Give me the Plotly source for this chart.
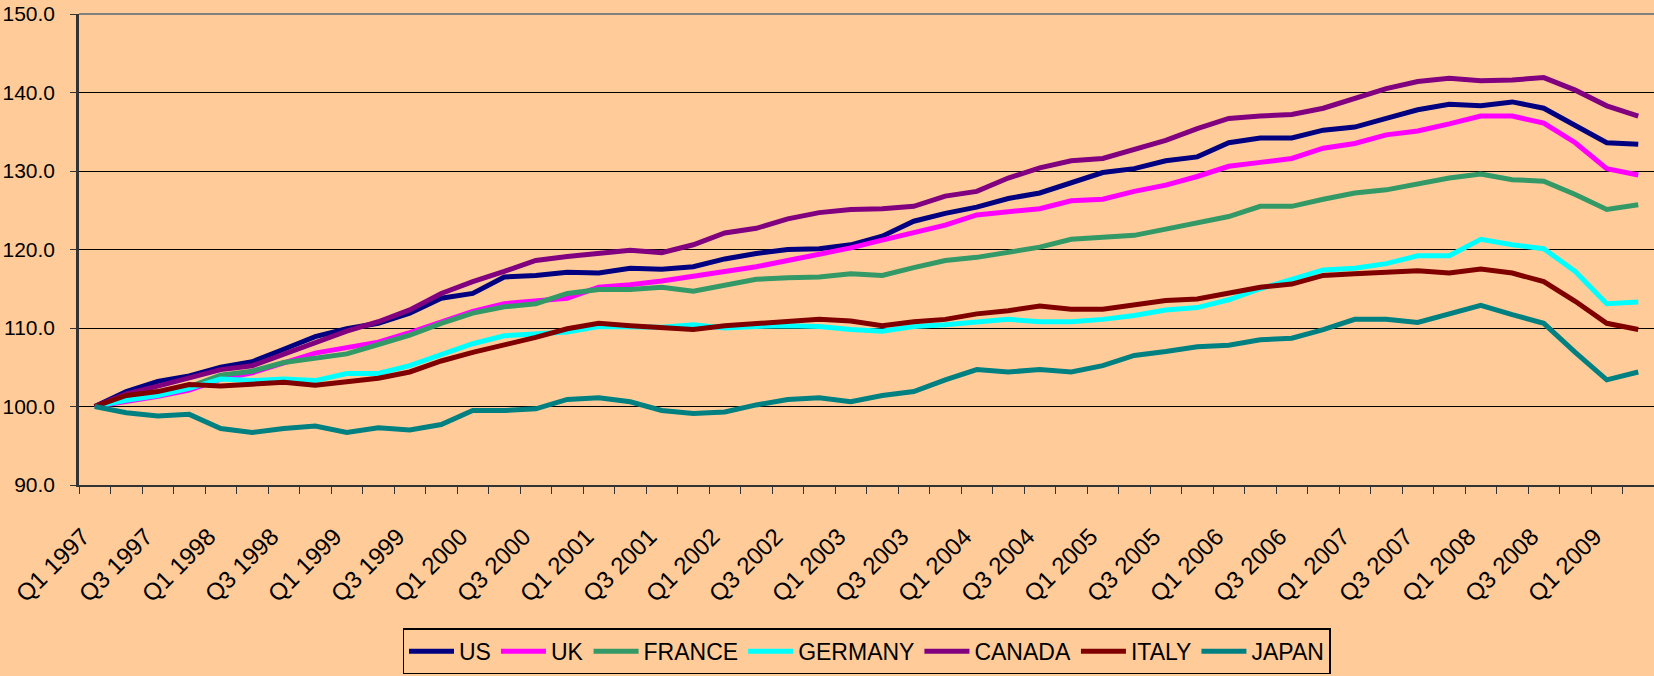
import plotly.graph_objects as go

years = list(range(1997, 2010))
quarters = [f"Q{q} {y}" for y in years for q in range(1, 5)][:50]

us = [100.0, 101.9, 103.2, 103.9, 105.0, 105.7, 107.3, 108.9, 109.9, 110.6,
      111.9, 113.8, 114.4, 116.5, 116.7, 117.1, 117.0, 117.6, 117.5, 117.8,
      118.8, 119.5, 120.0, 120.1, 120.6, 121.7, 123.6, 124.6, 125.4, 126.5,
      127.2, 128.5, 129.8, 130.3, 131.3, 131.8, 133.6, 134.2, 134.2, 135.2,
      135.6, 136.7, 137.8, 138.5, 138.3, 138.8, 138.0, 135.8, 133.6, 133.4]
uk = [100.0, 100.6, 101.3, 102.1, 103.5, 104.3, 105.6, 106.8, 107.5, 108.2,
      109.4, 110.8, 112.1, 113.1, 113.5, 113.8, 115.2, 115.5, 116.0, 116.6,
      117.3, 117.8, 118.6, 119.4, 120.2, 121.2, 122.2, 123.1, 124.4, 124.8,
      125.2, 126.2, 126.4, 127.4, 128.2, 129.3, 130.6, 131.1, 131.6, 132.9,
      133.5, 134.6, 135.1, 136.0, 137.0, 137.0, 136.1, 133.6, 130.3, 129.5]
france = [100.0, 101.1, 101.7, 102.5, 104.0, 104.5, 105.6, 106.2, 106.7, 107.9,
          109.1, 110.6, 111.9, 112.7, 113.1, 114.4, 114.9, 114.9, 115.2, 114.7,
          115.5, 116.2, 116.4, 116.5, 116.9, 116.7, 117.7, 118.6, 119.0, 119.7,
          120.3, 121.3, 121.6, 121.8, 122.6, 123.4, 124.2, 125.5, 125.5, 126.4,
          127.2, 127.6, 128.4, 129.1, 129.6, 128.9, 128.7, 127.0, 125.1, 125.7]
germany = [100.0, 100.8, 101.4, 102.3, 103.5, 103.3, 103.5, 103.3, 104.2, 104.2,
           105.2, 106.6, 108.0, 109.0, 109.2, 109.5, 110.2, 110.2, 110.1, 110.4,
           110.0, 110.2, 110.3, 110.2, 109.8, 109.6, 110.2, 110.4, 110.8, 111.1,
           110.8, 110.8, 111.1, 111.6, 112.3, 112.6, 113.6, 115.0, 116.2, 117.4,
           117.6, 118.2, 119.2, 119.2, 121.3, 120.6, 120.1, 117.2, 113.1, 113.3]
canada = [100.0, 101.6, 102.6, 103.6, 104.7, 105.2, 106.7, 108.1, 109.6, 110.8,
          112.3, 114.4, 115.9, 117.2, 118.6, 119.1, 119.5, 119.9, 119.6, 120.6,
          122.1, 122.7, 123.9, 124.7, 125.1, 125.2, 125.5, 126.8, 127.4, 129.1,
          130.4, 131.3, 131.6, 132.7, 133.9, 135.4, 136.7, 137.0, 137.2, 138.0,
          139.2, 140.5, 141.4, 141.8, 141.5, 141.6, 141.9, 140.3, 138.3, 137.0]
italy = [100.0, 101.4, 101.9, 102.8, 102.6, 102.9, 103.1, 102.7, 103.1, 103.6,
         104.4, 105.8, 106.9, 107.8, 108.8, 109.9, 110.6, 110.3, 110.0, 109.8,
         110.3, 110.6, 110.8, 111.1, 110.9, 110.3, 110.8, 111.1, 111.8, 112.2,
         112.8, 112.4, 112.4, 113.0, 113.5, 113.7, 114.4, 115.2, 115.6, 116.7,
         116.9, 117.1, 117.3, 117.0, 117.5, 117.0, 115.9, 113.4, 110.6, 109.8]
japan = [100.0, 99.2, 98.8, 99.0, 97.2, 96.7, 97.2, 97.5, 96.7, 97.3,
         97.0, 97.7, 99.5, 99.5, 99.7, 100.9, 101.1, 100.6, 99.5, 99.1,
         99.3, 100.2, 100.9, 101.1, 100.6, 101.4, 101.9, 103.4, 104.7, 104.4,
         104.7, 104.4, 105.2, 106.5, 107.0, 107.6, 107.8, 108.5, 108.7, 109.8,
         111.1, 111.1, 110.7, 111.8, 112.9, 111.7, 110.6, 106.9, 103.4, 104.4]

series = [
    ("US", us, "#000080"),
    ("UK", uk, "#FF00FF"),
    ("FRANCE", france, "#339966"),
    ("GERMANY", germany, "#00FFFF"),
    ("CANADA", canada, "#800080"),
    ("ITALY", italy, "#800000"),
    ("JAPAN", japan, "#008080"),
]

tick_text = [q if i % 2 == 0 else "" for i, q in enumerate(quarters)]

fig = go.Figure()
for name, vals, color in series:
    fig.add_trace(go.Scatter(x=quarters, y=vals, mode="lines", name=name,
                             line=dict(color=color, width=5)))

font_family = "Liberation Sans, Arial, sans-serif"
bg = "#FFCC99"

fig.update_layout(
    width=1654, height=676,
    paper_bgcolor=bg, plot_bgcolor=bg,
    margin=dict(l=79, r=0, t=14, b=191),
    font=dict(family=font_family, size=21, color="#000000"),
    showlegend=True,
    legend=dict(orientation="h", x=0.5, xanchor="center", y=-0.304, yanchor="top",
                bgcolor=bg, bordercolor="#000000", borderwidth=1.5,
                font=dict(size=23, family=font_family), itemwidth=45,
                tracegroupgap=0),
    xaxis=dict(type="category", range=[-0.5, len(quarters) - 0.5],
               tickmode="array", tickvals=quarters, ticktext=tick_text,
               tickangle=-45, tickson="boundaries", ticks="outside", ticklen=7,
               tickcolor="#333333", showgrid=False, showline=True,
               linecolor="#333333", linewidth=2, zeroline=False,
               automargin=False, ticklabelstandoff=26, ticklabelshift=-12,
               tickfont=dict(size=24, family=font_family)),
    yaxis=dict(range=[90, 150], dtick=10, tick0=90, tickformat=".1f",
               showgrid=True, gridcolor="#000000", gridwidth=1,
               ticks="outside", ticklen=6, tickcolor="#333333",
               showline=True, linecolor="#333333", linewidth=2.5,
               zeroline=False, automargin=False, ticklabelstandoff=11,
               tickfont=dict(size=21, family=font_family)),
    shapes=[dict(type="line", xref="paper", yref="paper", x0=0, x1=1, y0=1, y1=1,
                 line=dict(color="#808080", width=2))],
)

fig.write_html("out.html", config={"displayModeBar": False},
               post_script="document.body.style.margin='0px';document.body.style.overflow='hidden';")
